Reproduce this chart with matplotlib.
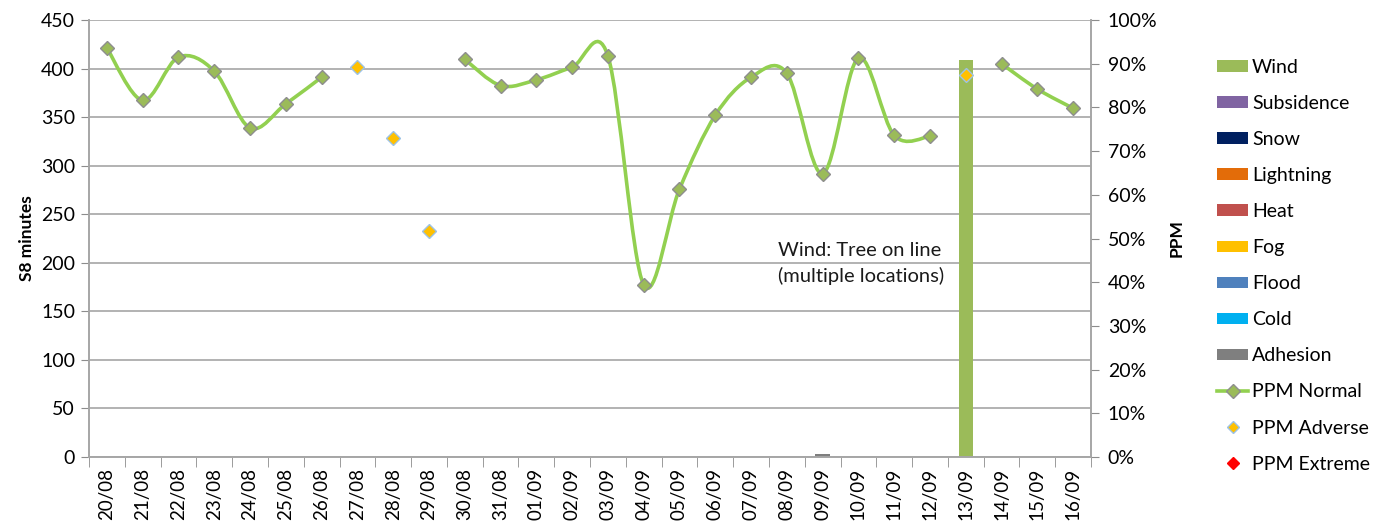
import numpy as np
import matplotlib
matplotlib.use('Agg')
import matplotlib.pyplot as plt
from matplotlib.path import Path
from matplotlib.patches import PathPatch, Patch
from matplotlib.lines import Line2D
from matplotlib.ticker import PercentFormatter

plt.rcParams['font.family'] = ['Lato', 'DejaVu Sans']

days = ['20/08', '21/08', '22/08', '23/08', '24/08', '25/08', '26/08', '27/08', '28/08',
        '29/08', '30/08', '31/08', '01/09', '02/09', '03/09', '04/09', '05/09', '06/09',
        '07/09', '08/09', '09/09', '10/09', '11/09', '12/09', '13/09', '14/09', '15/09', '16/09']

# PPM (%) on normal days, None where the day was adverse
ppm_normal = [93.6, 81.6, 91.5, 88.3, 75.3, 80.8, 86.9, None, None, None, 91.0, 85.0,
              86.3, 89.2, 91.8, 39.4, 61.3, 78.2, 86.9, 87.8, 64.8, 91.3, 73.6, 73.4,
              None, 90.0, 84.2, 79.8]
ppm_adverse = [None] * 7 + [89.2, 72.9, 51.8] + [None] * 14 + [87.5] + [None] * 3
ppm_extreme = [None] * 28

# S8 minutes by cause
wind_mins = [0] * 24 + [409] + [0] * 3
adhesion_mins = [0] * 20 + [3] + [0] * 7

causes = ['Wind', 'Subsidence', 'Snow', 'Lightning', 'Heat', 'Fog', 'Flood', 'Cold', 'Adhesion']
cause_colors = ['#9BBB59', '#8064A2', '#002060', '#E36C09', '#C0504D', '#FFC000',
                '#4F81BD', '#00B0F0', '#7F7F7F']

note_lines = ['Wind: Tree on line', '(multiple locations)']

n = len(days)
x = np.arange(n)

fig = plt.figure(figsize=(13.73, 5.24), dpi=100)
ax = fig.add_axes([89 / 1373, 67 / 524, 1002 / 1373, 437 / 524])
ax2 = ax.twinx()

# bars (left axis)
ax.bar(x, wind_mins, width=0.39, color=cause_colors[0], zorder=2)
ax.bar(x, adhesion_mins, width=0.42, bottom=wind_mins, color=cause_colors[8], zorder=2)

ax.set_ylim(0, 450)
ax.set_yticks(range(0, 451, 50))
ax.set_xlim(-0.5, n - 0.5)
ax.set_xticks(x)
ax.set_xticklabels(days, rotation=90, fontsize=13.5)
ax.set_xticks(np.arange(n + 1) - 0.5, minor=True)
ax.tick_params(axis='x', which='major', length=0, pad=8)
ax.tick_params(axis='x', which='minor', length=7, color='#8c8c8c', direction='out')
ax.tick_params(axis='y', length=6, color='#8c8c8c', labelsize=14, pad=4)
ax.grid(axis='y', color='#a6a6a6', linewidth=1.2, zorder=0)
ax.set_axisbelow(True)
ax.set_ylabel('S8 minutes', fontsize=12.5, fontweight='bold', labelpad=4)

for a in (ax, ax2):
    a.spines['top'].set_visible(False)
    for s in ['left', 'right', 'bottom']:
        a.spines[s].set_color('#a6a6a6')
        a.spines[s].set_linewidth(1.2)

ax2.set_ylim(0, 100)
ax2.set_yticks(range(0, 101, 10))
ax2.yaxis.set_major_formatter(PercentFormatter(decimals=0))
ax2.tick_params(axis='y', length=6, color='#8c8c8c', labelsize=14, pad=6)
ax2.set_ylabel('PPM', fontsize=12.5, fontweight='bold', labelpad=8)

line_color = '#92D050'

# smoothed line (Excel-style bezier) through each run of normal days
runs = []
cur = []
for i, v in enumerate(ppm_normal):
    if v is None:
        if cur:
            runs.append(cur)
        cur = []
    else:
        cur.append((x[i], v))
if cur:
    runs.append(cur)

for run in runs:
    pts = np.array(run, dtype=float)
    if len(pts) < 2:
        continue
    verts = [pts[0]]
    codes = [Path.MOVETO]
    for k in range(len(pts) - 1):
        p0 = pts[k - 1] if k > 0 else pts[k]
        p1 = pts[k]
        p2 = pts[k + 1]
        p3 = pts[k + 2] if k + 2 < len(pts) else pts[k + 1]
        c1 = p1 + (p2 - p0) / 6
        c2 = p2 - (p3 - p1) / 6
        verts += [c1, c2, p2]
        codes += [Path.CURVE4] * 3
    ax2.add_patch(PathPatch(Path(verts, codes), facecolor='none', edgecolor=line_color,
                            linewidth=2.6, zorder=3))

normal_vals = np.array([np.nan if v is None else v for v in ppm_normal])
adverse_vals = np.array([np.nan if v is None else v for v in ppm_adverse])
extreme_vals = np.array([np.nan if v is None else v for v in ppm_extreme])

ax2.plot(x, normal_vals, linestyle='none', marker='D', markersize=7,
         markerfacecolor='#9BBB59', markeredgecolor='#8E8E8E', markeredgewidth=1, zorder=4)
ax2.plot(x, adverse_vals, linestyle='none', marker='D', markersize=7,
         markerfacecolor='#FFC000', markeredgecolor='#9DC3E6', markeredgewidth=1, zorder=4)
ax2.plot(x, extreme_vals, linestyle='none', marker='D', markersize=7,
         markerfacecolor='#FF0000', markeredgecolor='#FF0000', zorder=4)

# note for the wind day
ax.text(18.75, 207, note_lines[0], fontsize=14.5, va='baseline', ha='left', color='#1a1a1a')
ax.text(18.75, 180, note_lines[1], fontsize=14.5, va='baseline', ha='left', color='#1a1a1a')

handles = [Patch(facecolor=c, edgecolor='none') for c in cause_colors]
handles.append(Line2D([], [], color=line_color, linewidth=2.6, marker='D', markersize=7,
                      markerfacecolor='#9BBB59', markeredgecolor='#8E8E8E'))
handles.append(Line2D([], [], linestyle='none', marker='D', markersize=6,
                      markerfacecolor='#FFC000', markeredgecolor='#9DC3E6'))
handles.append(Line2D([], [], linestyle='none', marker='D', markersize=6,
                      markerfacecolor='#FF0000', markeredgecolor='#FF0000'))
labels = causes + ['PPM Normal', 'PPM Adverse', 'PPM Extreme']
fig.legend(handles, labels, loc='upper left', bbox_to_anchor=(1217 / 1373, 1 - 59 / 524),
           frameon=False, fontsize=14, labelspacing=0.98, handlelength=1.6,
           handleheight=0.55, handletextpad=0.2, borderpad=0, borderaxespad=0)

fig.savefig('out.png', dpi=100)
